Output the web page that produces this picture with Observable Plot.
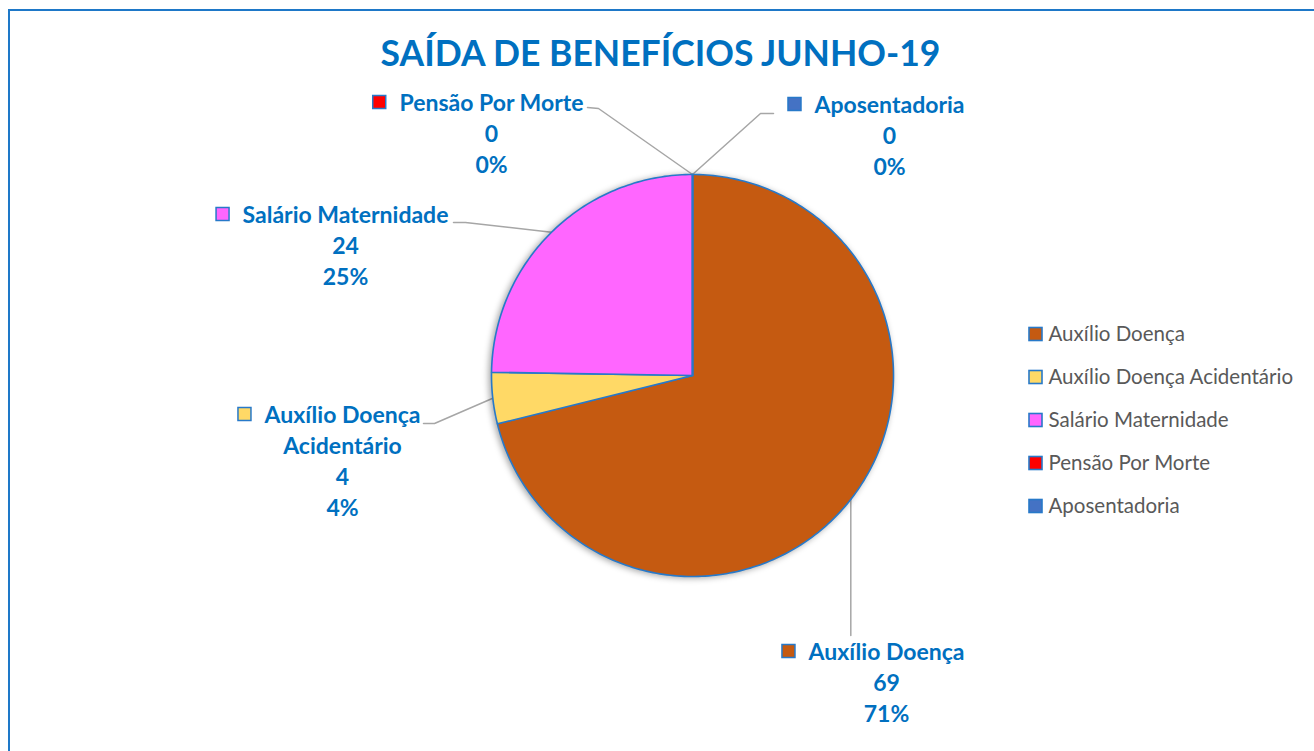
<!DOCTYPE html>
<html>
<head>
<meta charset="utf-8">
<script src="https://cdn.jsdelivr.net/npm/d3@7"></script>
<script src="https://cdn.jsdelivr.net/npm/@observablehq/plot@0.6"></script>
<style>
  html, body { margin: 0; padding: 0; background: #fff; }
  #wrap { position: relative; width: 1314px; height: 751px; overflow: hidden; background: #fff; }
  #frame { position: absolute; left: 8px; top: 9px; width: 1400px; height: 800px; border: 2px solid #1E78C8; box-sizing: border-box; }
  #chart { position: absolute; left: 0; top: 0; }
</style>
</head>
<body>
<div id="wrap"><div id="frame"></div><div id="chart"></div></div>
<script>
// ---- data ----
const title = "SAÍDA DE BENEFÍCIOS JUNHO-19";
const categories = ["Auxílio Doença", "Auxílio Doença Acidentário", "Salário Maternidade", "Pensão Por Morte", "Aposentadoria"];
const values = [69, 4, 24, 0, 0];
const colors = ["#C55A11", "#FFD966", "#FF66FF", "#FF0000", "#4472C4"];

// ---- layout (pixel space of the chart) ----
const W = 1314, H = 751;
const CX = 692, CY = 375, R = 201;
const labelFont = "Lato, 'Open Sans', sans-serif";
const labelSize = 23;
const lineGap = 31;
const labelLayout = [
  {name: "Auxílio Doença",               x: 886, cy: 652, leader: [[null, 635]]},
  {name: "Auxílio Doença\nAcidentário",  x: 342, cy: 415, leader: [[434, 423], [423, 423]]},
  {name: "Salário Maternidade",          x: 345, cy: 215, leader: [[465, 222], [453, 222]]},
  {name: "Pensão Por Morte",             x: 491, cy: 103, leader: [[598, 108], [587, 107]]},
  {name: "Aposentadoria",                x: 889, cy: 105, leader: [[760, 113], [773, 113]]}
];
const legendLayout = {x: 1029, y0: 334, dy: 43, size: 13, textX: 1048, fontSize: 20.5};

// ---- derived geometry ----
const total = d3.sum(values);
const pie = d3.pie().sort(null).value(d => d)(values);
const pt = a => ({x: CX + R * Math.sin(a), y: CY - R * Math.cos(a)});

const slicePts = [];
pie.forEach((p, i) => {
  const n = Math.max(2, Math.ceil((p.endAngle - p.startAngle) / (Math.PI * 2) * 360));
  slicePts.push({cat: categories[i], x: CX, y: CY});
  for (let k = 0; k <= n; k++) {
    const a = p.startAngle + (p.endAngle - p.startAngle) * k / n;
    slicePts.push({cat: categories[i], ...pt(a)});
  }
});

const canvas = document.createElement("canvas").getContext("2d");
canvas.font = `bold ${labelSize}px ${labelFont}`;

const labels = pie.map((p, i) => {
  const L = labelLayout[i];
  const pct = Math.round(values[i] / total * 100) + "%";
  const firstLine = L.name.split("\n")[0];
  const w = canvas.measureText(firstLine).width;
  return {cat: categories[i], x: L.x, top: L.cy - 0.62 * labelSize, text: `${L.name}\n${values[i]}\n${pct}`,
          sqx2: L.x - w / 2 - 13, sqy: L.cy - 1};
});

const leaderPts = [];
pie.forEach((p, i) => {
  const e = pt((p.startAngle + p.endAngle) / 2);
  leaderPts.push({cat: categories[i], x: e.x, y: e.y});
  labelLayout[i].leader.forEach(([lx, ly]) => {
    leaderPts.push({cat: categories[i], x: lx == null ? e.x : lx, y: ly});
  });
});

const legend = categories.map((c, i) => ({cat: c, y: legendLayout.y0 + i * legendLayout.dy}));

const chart = Plot.plot({
  width: W, height: H, margin: 0,
  x: {domain: [0, W], range: [0, W], axis: null},
  y: {domain: [0, H], range: [0, H], axis: null},
  color: {domain: categories, range: colors},
  style: {background: "transparent", overflow: "visible"},
  marks: [
    Plot.line(leaderPts, {x: "x", y: "y", z: "cat", stroke: "#A6A6A6", strokeWidth: 1.5}),
    Plot.line(slicePts, {x: "x", y: "y", z: "cat", fill: "cat", stroke: "#2779C9", strokeWidth: 1.6, curve: "linear-closed", strokeLinejoin: "round"}),
    Plot.rect(labels, {x1: d => d.sqx2 - 13, x2: "sqx2", y1: d => d.sqy - 6.5, y2: d => d.sqy + 6.5, fill: "cat", stroke: "#2779C9", strokeWidth: 1.5}),
    Plot.text(labels, {x: "x", y: "top", text: "text", lineAnchor: "top", lineHeight: lineGap / labelSize, textAnchor: "middle",
      fontSize: labelSize, fontWeight: "bold", fontFamily: labelFont, fill: "#0070C0"}),
    Plot.rect(legend, {x1: legendLayout.x, x2: legendLayout.x + legendLayout.size, y1: d => d.y - 6.5, y2: d => d.y + 6.5, fill: "cat", stroke: "#2779C9", strokeWidth: 1.6}),
    Plot.text(legend, {x: legendLayout.textX, y: "y", text: "cat", textAnchor: "start", fontSize: legendLayout.fontSize,
      fontFamily: labelFont, fill: "#595959"}),
    Plot.text([title], {x: 660, y: 54, text: d => d, textAnchor: "middle", fontSize: 35.5, fontWeight: "bold", fontFamily: labelFont, fill: "#0070C0"})
  ]
});
document.getElementById("chart").appendChild(chart);
// soft shadow around the pie
d3.select(chart).selectAll('g[aria-label="line"]').filter((d, i) => i === 1)
  .style("filter", "drop-shadow(-2px 1px 3px rgba(0,0,0,0.35))");
</script>
</body>
</html>
